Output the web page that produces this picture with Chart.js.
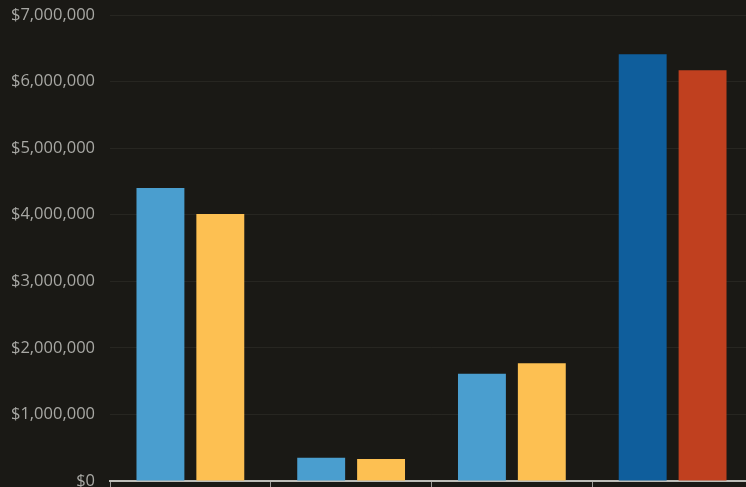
<!DOCTYPE html>
<html>
<head>
<meta charset="utf-8">
<script src="https://cdn.jsdelivr.net/npm/chart.js@4/dist/chart.umd.min.js"></script>
<style>
html,body{margin:0;padding:0;background:#1a1915;overflow:hidden;width:746px;height:487px;}
#wrap{position:absolute;left:0;top:0;width:753px;height:487px;}
</style>
</head>
<body>
<div id="wrap"><canvas id="c" width="753" height="487"></canvas></div>
<script>
const categories = ["A", "B", "C", "D"];
const seriesA = [4400000, 350000, 1610000, 6410000];
const seriesB = [4010000, 330000, 1770000, 6170000];
const seriesAColors = ["#4a9ecf", "#4a9ecf", "#4a9ecf", "#0f5e9c"];
const seriesBColors = ["#fdc052", "#fdc052", "#fdc052", "#c0401f"];
const yTicks = [0, 1000000, 2000000, 3000000, 4000000, 5000000, 6000000, 7000000];

new Chart(document.getElementById('c'), {
  type: 'bar',
  data: {
    labels: categories,
    datasets: [
      {data: seriesA, backgroundColor: seriesAColors, borderWidth: 0, categoryPercentage: 0.745, barPercentage: 0.8},
      {data: seriesB, backgroundColor: seriesBColors, borderWidth: 0, categoryPercentage: 0.745, barPercentage: 0.8}
    ]
  },
  options: {
    responsive: false,
    animation: false,
    layout: {padding: {top: 0, right: 0, bottom: 0, left: 0}},
    plugins: {legend: {display: false}, tooltip: {enabled: false}},
    scales: {
      x: {
        afterFit: s => { s.height = 6; s.paddingBottom = 0; s.paddingTop = 0; },
        grid: {display: true, drawOnChartArea: false, drawTicks: true, tickLength: 6, color: '#9a9a96', offset: true},
        border: {display: true, color: '#bdbdb8', width: 2},
        ticks: {display: false}
      },
      y: {
        min: 0, max: 7000000,
        afterFit: s => { s.width = 110; s.paddingTop = 15; s.paddingBottom = 0; },
        afterBuildTicks: s => { s.ticks = yTicks.map(v => ({value: v})); },
        grid: {color: 'rgba(255,255,240,0.06)', drawTicks: false},
        border: {display: false},
        ticks: {
          color: '#a8a8a4', padding: 15,
          font: {family: 'Open Sans', size: 16.5},
          callback: v => '$' + v.toLocaleString('en-US')
        }
      }
    }
  }
});
</script>
</body>
</html>
